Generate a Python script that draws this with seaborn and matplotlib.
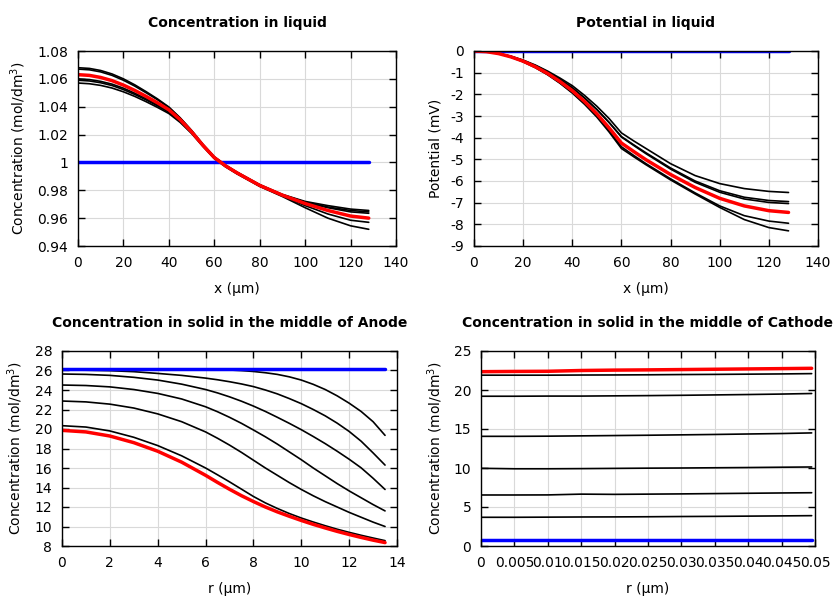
import matplotlib
matplotlib.use('Agg')
import matplotlib.pyplot as plt
import seaborn as sns
import numpy as np
import pandas as pd
from matplotlib.ticker import FuncFormatter

#%% data
# liquid, x positions in um
x_liq = [0, 5, 10, 15, 20, 25, 30, 35, 40, 45, 50, 55, 60, 65, 70, 80, 90, 100, 110, 120, 128]
conc_liq_black = [
    [1.068, 1.0675, 1.066, 1.0635, 1.060, 1.0557, 1.0508, 1.0456, 1.0398, 1.032, 1.023, 1.013, 1.004, 0.998, 0.993, 0.984, 0.977, 0.972, 0.969, 0.9665, 0.9655],
    [1.067, 1.0665, 1.065, 1.0625, 1.059, 1.0548, 1.050, 1.045, 1.0393, 1.0318, 1.0228, 1.0128, 1.004, 0.998, 0.993, 0.984, 0.9768, 0.9715, 0.968, 0.9655, 0.9645],
    [1.060, 1.0595, 1.0582, 1.0562, 1.0533, 1.0497, 1.0457, 1.0414, 1.0367, 1.0299, 1.0215, 1.012, 1.0032, 0.9973, 0.9922, 0.9834, 0.9767, 0.9713, 0.9675, 0.9645, 0.9635],
    [1.059, 1.0585, 1.0572, 1.0552, 1.0523, 1.0488, 1.0449, 1.0406, 1.036, 1.0294, 1.0212, 1.0118, 1.003, 0.997, 0.992, 0.983, 0.976, 0.969, 0.963, 0.9585, 0.957],
    [1.057, 1.0565, 1.0553, 1.0534, 1.0507, 1.0474, 1.0436, 1.0395, 1.0351, 1.0287, 1.0208, 1.0115, 1.0028, 0.9968, 0.9918, 0.9828, 0.9755, 0.9675, 0.960, 0.9545, 0.952],
]
conc_liq_red = [1.063, 1.0625, 1.061, 1.0587, 1.0555, 1.0517, 1.0474, 1.0428, 1.0378, 1.0307, 1.022, 1.0123, 1.0035, 0.9975, 0.9925, 0.9835, 0.9765, 0.9705, 0.9655, 0.9615, 0.960]
conc_liq_blue = [1.0, 1.0]
x_liq_blue = [-0.5, 128]

pot_liq_black = [
    [0, -0.03, -0.11, -0.24, -0.42, -0.65, -0.93, -1.25, -1.6, -2.05, -2.55, -3.12, -3.78, -4.15, -4.5, -5.2, -5.75, -6.12, -6.35, -6.48, -6.53],
    [0, -0.03, -0.11, -0.25, -0.44, -0.68, -0.97, -1.31, -1.7, -2.17, -2.7, -3.3, -3.95, -4.33, -4.7, -5.4, -6.0, -6.45, -6.75, -6.9, -6.95],
    [0, -0.03, -0.11, -0.25, -0.44, -0.68, -0.97, -1.31, -1.7, -2.17, -2.7, -3.3, -3.97, -4.36, -4.74, -5.45, -6.06, -6.52, -6.83, -6.99, -7.04],
    [0, -0.03, -0.12, -0.28, -0.49, -0.76, -1.08, -1.47, -1.91, -2.42, -3.0, -3.68, -4.42, -4.82, -5.2, -5.9, -6.55, -7.15, -7.6, -7.85, -7.95],
    [0, -0.03, -0.12, -0.28, -0.5, -0.77, -1.1, -1.49, -1.94, -2.46, -3.05, -3.74, -4.5, -4.88, -5.25, -5.95, -6.6, -7.22, -7.78, -8.15, -8.3],
]
pot_liq_red = [0, -0.03, -0.12, -0.27, -0.47, -0.73, -1.04, -1.41, -1.83, -2.33, -2.9, -3.55, -4.25, -4.64, -5.02, -5.7, -6.3, -6.8, -7.15, -7.37, -7.45]
pot_liq_blue = [0.0, 0.0]

# anode particle, r in um
r_an = [0, 1, 2, 3, 4, 5, 6, 6.5, 7, 7.5, 8, 8.5, 9, 9.5, 10, 10.5, 11, 11.5, 12, 12.5, 13, 13.5]
conc_an_black = [
    [26.15, 26.15, 26.15, 26.15, 26.14, 26.13, 26.1, 26.08, 26.05, 25.99, 25.9, 25.77, 25.6, 25.35, 25.02, 24.58, 24.05, 23.4, 22.65, 21.8, 20.75, 19.35],
    [26.05, 26.03, 25.98, 25.88, 25.7, 25.5, 25.22, 25.05, 24.85, 24.62, 24.35, 24.0, 23.6, 23.12, 22.6, 22.0, 21.35, 20.6, 19.75, 18.75, 17.55, 16.3],
    [25.64, 25.6, 25.5, 25.3, 25.02, 24.6, 24.05, 23.7, 23.3, 22.85, 22.35, 21.8, 21.2, 20.58, 19.93, 19.23, 18.5, 17.72, 16.9, 16.02, 14.95, 13.8],
    [24.51, 24.46, 24.32, 24.05, 23.65, 23.08, 22.28, 21.77, 21.2, 20.58, 19.9, 19.2, 18.45, 17.65, 16.85, 16.0, 15.2, 14.4, 13.65, 12.95, 12.25, 11.6],
    [22.87, 22.78, 22.55, 22.15, 21.55, 20.75, 19.7, 19.05, 18.35, 17.6, 16.8, 16.0, 15.25, 14.5, 13.8, 13.15, 12.55, 12.0, 11.45, 10.95, 10.45, 10.0],
    [20.34, 20.2, 19.8, 19.15, 18.3, 17.25, 16.0, 15.3, 14.58, 13.83, 13.08, 12.42, 11.85, 11.33, 10.87, 10.46, 10.08, 9.72, 9.4, 9.1, 8.82, 8.55],
]
conc_an_red = [19.86, 19.7, 19.28, 18.6, 17.72, 16.6, 15.25, 14.52, 13.82, 13.16, 12.56, 12.0, 11.5, 11.05, 10.62, 10.22, 9.85, 9.5, 9.18, 8.88, 8.6, 8.35]
conc_an_blue = [26.15, 26.15]
r_an_blue = [0, 13.5]

# cathode particle, r in um
r_ca = [0, 0.005, 0.01, 0.015, 0.02, 0.025, 0.03, 0.035, 0.04, 0.045, 0.0495]
conc_ca_black = [
    [21.9, 21.9, 21.9, 21.92, 21.93, 21.95, 21.98, 22.0, 22.03, 22.06, 22.1],
    [19.2, 19.2, 19.22, 19.22, 19.25, 19.28, 19.32, 19.37, 19.42, 19.48, 19.55],
    [14.06, 14.06, 14.08, 14.12, 14.16, 14.2, 14.25, 14.3, 14.36, 14.42, 14.5],
    [9.96, 9.9, 9.9, 9.92, 9.95, 9.98, 10.0, 10.03, 10.06, 10.1, 10.13],
    [6.54, 6.54, 6.55, 6.65, 6.62, 6.65, 6.68, 6.72, 6.76, 6.8, 6.83],
    [3.68, 3.68, 3.7, 3.72, 3.73, 3.75, 3.78, 3.8, 3.83, 3.86, 3.89],
]
conc_ca_red = [22.35, 22.38, 22.4, 22.5, 22.55, 22.58, 22.62, 22.66, 22.7, 22.74, 22.78]
conc_ca_blue = [0.77, 0.77]
r_ca_blue = [0, 0.0495]
ca_ticks = [0, 0.005, 0.01, 0.015, 0.02, 0.025, 0.03, 0.035, 0.04, 0.045, 0.05]
ca_ticklabels = ['0', '0.005', '0.01', '0.015', '0.02', '0.025', '0.03', '0.035', '0.04', '0.045', '0.05']

#%% style
sns.set_style('ticks')
plt.rcParams['font.family'] = ['DejaVu Sans']
plt.rcParams['font.size'] = 10
for k in ['text.color', 'axes.labelcolor', 'xtick.color', 'ytick.color', 'axes.edgecolor']:
    plt.rcParams[k] = 'black'

fig = plt.figure(figsize=(8.4, 6), dpi=100)

def make_ax(rect):
    ax = fig.add_axes(rect)
    ax.grid(True, color='#d9d9d9', linewidth=0.8)
    ax.set_axisbelow(True)
    ax.tick_params(direction='in', top=True, right=True, length=5, width=1, pad=7, labelsize=10)
    for s in ax.spines.values():
        s.set_linewidth(1.0)
        s.set_color('black')
    ax.yaxis.set_major_formatter(FuncFormatter(lambda v, p: '{:g}'.format(round(v, 6))))
    ax.xaxis.set_major_formatter(FuncFormatter(lambda v, p: '{:g}'.format(round(v, 6))))
    return ax

def draw(ax, x, blacks, red, xb, blue):
    for yy in blacks:
        sns.lineplot(x=x, y=yy, ax=ax, color='black', linewidth=1.2, estimator=None, sort=False)
    sns.lineplot(x=xb, y=blue, ax=ax, color='blue', linewidth=2.5, estimator=None, sort=False)
    sns.lineplot(x=x, y=red, ax=ax, color='red', linewidth=2.5, estimator=None, sort=False)

ylab = 'Concentration (mol/dm$^3$)'
tkw = dict(fontsize=10, fontweight='bold', pad=17)

# concentration in liquid
ax1 = make_ax([78/840, 1-246/600, 318/840, 195/600])
draw(ax1, x_liq, conc_liq_black, conc_liq_red, x_liq_blue, conc_liq_blue)
ax1.set_xlim(0, 140)
ax1.set_ylim(0.94, 1.08)
ax1.set_xticks(np.arange(0, 141, 20))
ax1.set_yticks(np.arange(0.94, 1.081, 0.02))
ax1.set_title('Concentration in liquid', **tkw)
ax1.set_xlabel('x (µm)', labelpad=9)
ax1.set_ylabel(ylab, labelpad=7)

# potential in liquid
ax2 = make_ax([474/840, 1-246/600, 344/840, 195/600])
draw(ax2, x_liq, pot_liq_black, pot_liq_red, [0, 128], pot_liq_blue)
ax2.set_xlim(0, 140)
ax2.set_ylim(-9, 0)
ax2.set_xticks(np.arange(0, 141, 20))
ax2.set_yticks(np.arange(-9, 0.1, 1))
ax2.set_title('Potential in liquid', **tkw)
ax2.set_xlabel('x (µm)', labelpad=9)
ax2.set_ylabel('Potential (mV)', labelpad=6)

# anode
ax3 = make_ax([62/840, 1-546/600, 335/840, 195/600])
draw(ax3, r_an, conc_an_black, conc_an_red, r_an_blue, conc_an_blue)
ax3.set_xlim(0, 14)
ax3.set_ylim(8, 28)
ax3.set_xticks(np.arange(0, 15, 2))
ax3.set_yticks(np.arange(8, 29, 2))
ax3.set_title('Concentration in solid in the middle of Anode', **tkw)
ax3.set_xlabel('r (µm)', labelpad=9)
ax3.set_ylabel(ylab, labelpad=7)

# cathode
ax4 = make_ax([481/840, 1-546/600, 334/840, 195/600])
draw(ax4, r_ca, conc_ca_black, conc_ca_red, r_ca_blue, conc_ca_blue)
ax4.set_xlim(0, 0.05)
ax4.set_ylim(0, 25)
ax4.set_xticks(ca_ticks)
ax4.set_xticklabels(ca_ticklabels)
ax4.set_yticks(np.arange(0, 26, 5))
ax4.set_title('Concentration in solid in the middle of Cathode', **tkw)
ax4.set_xlabel('r (µm)', labelpad=9)
ax4.set_ylabel(ylab, labelpad=6)

fig.savefig('out.png', dpi=100)
